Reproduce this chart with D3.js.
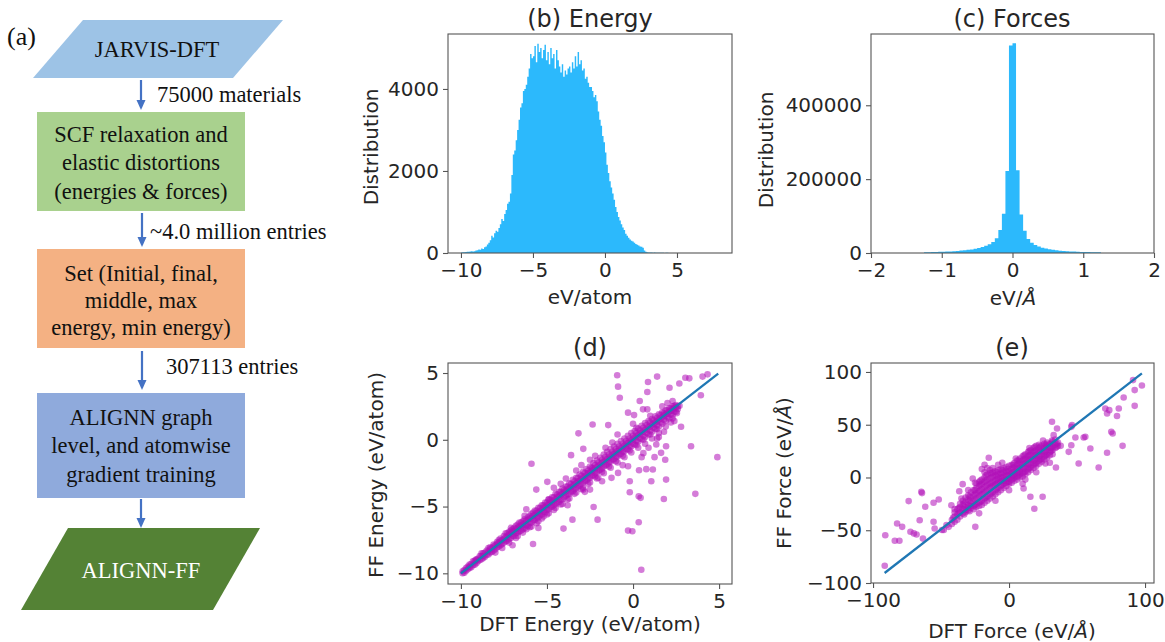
<!DOCTYPE html>
<html>
<head>
<meta charset="utf-8">
<script src="https://cdn.jsdelivr.net/npm/d3@7"></script>
<style>
  body { margin: 0; background: #fff; }
  svg text { font-family: "DejaVu Sans", sans-serif; fill: #262626; }
  .flow text { font-family: "Liberation Serif", "Times New Roman", serif; fill: #111; }
</style>
</head>
<body>
<svg id="fig" width="1165" height="642"></svg>
<script>
// ---- flowchart text ----
const flowSteps = [
  ["JARVIS-DFT"],
  ["SCF relaxation and", "elastic distortions", "(energies & forces)"],
  ["Set (Initial, final,", "middle, max", "energy, min energy)"],
  ["ALIGNN graph", "level, and atomwise", "gradient training"],
  ["ALIGNN-FF"]
];
const flowCounts = ["75000 materials", "~4.0 million entries", "307113 entries", ""];

// ---- (b) energy histogram: bins of 0.1 eV/atom starting at -10 ----
const energyStart = -10, energyWidth = 0.1;
const energyCounts = [
  15, 20, 18, 25, 30, 28, 35, 40, 38, 45,
  60, 70, 85, 80, 110, 95, 140, 160, 210, 250,
  310, 420, 380, 480, 540, 520, 610, 700, 830, 780,
  950, 1050, 1200, 1250, 1450, 1900, 2400, 2500, 2750, 3000,
  3250, 3550, 3650, 3950, 4000, 4100, 4300, 4500, 4850, 4750,
  4800, 5050, 4650, 5100, 4900, 5000, 4750, 4950, 5080, 4700,
  4900, 4600, 5000, 4750, 4850, 4500, 4950, 4700, 4550, 4400,
  4600, 4300, 4450, 4350, 4500, 4550, 4400, 4650, 4500, 4800,
  4550, 4900, 4600, 4700, 4450, 4500, 4250, 4300, 4150, 4050,
  4050, 3950, 3800, 3850, 3700, 3450, 3250, 3100, 2850, 2700,
  2450, 2150, 1950, 1750, 1600, 1450, 1300, 1120, 1000, 880,
  790, 700, 620, 560, 470, 420, 370, 330, 300, 280,
  250, 220, 200, 180, 160, 150, 130, 60, 30, 20,
  15, 12, 10, 8, 10, 6, 8, 5, 6, 4,
  5, 3, 6, 4, 2
];

// ---- (c) force histogram: bins of 0.05 eV/A starting at -1.25 ----
const forceStart = -1.25, forceWidth = 0.05;
const forceCounts = [
  2000, 2200, 2500, 2800, 3100, 3500, 3900, 4400, 5000, 5700,
  6500, 7400, 8500, 9800, 11500, 13500, 16000, 19500, 24000, 30000,
  40000, 62000, 106000, 222000, 562000, 568000, 224000, 104000, 60000, 38000,
  28000, 22000, 17500, 14500, 12000, 10000, 8600, 7400, 6400, 5600,
  4900, 4300, 3800, 3400, 3000, 2700, 2400, 2200, 2000, 1800
];

// ---- (d) DFT vs FF energy: dense band rows [dft, ff, ff, ...] and outliers ----
const energyBand = [
  [-9.9, -9.85, -10.0], [-9.8, -9.75, -9.95], [-9.7, -9.6, -9.8], [-9.6, -9.7, -9.5],
  [-9.5, -9.35, -9.6, -9.5], [-9.4, -9.3, -9.55], [-9.3, -9.1, -9.4], [-9.2, -9.15, -9.35, -9.05],
  [-9.1, -8.95, -9.25, -9.0], [-9.0, -9.1, -8.9], [-8.9, -8.7, -9.0], [-8.8, -8.7, -8.95, -8.5],
  [-8.7, -8.5, -8.85, -8.7], [-8.6, -8.75, -8.45], [-8.5, -8.3, -8.6], [-8.4, -8.35, -8.6, -8.1],
  [-8.3, -8.05, -8.45, -8.2], [-8.2, -8.4, -8.1], [-8.1, -7.85, -8.3, -8.0], [-8.0, -7.9, -8.2, -8.45],
  [-7.9, -7.65, -8.05, -7.8], [-7.8, -7.7, -8.0, -7.5], [-7.7, -7.4, -7.9, -7.6], [-7.6, -7.5, -7.8, -8.1],
  [-7.5, -7.2, -7.7, -7.45], [-7.4, -7.3, -7.6, -7.0], [-7.3, -7.0, -7.55, -7.25],
  [-7.2, -7.1, -7.45, -6.9, -7.7], [-7.1, -6.8, -7.35, -7.05, -6.6], [-7.0, -6.9, -7.2, -6.7],
  [-6.9, -6.6, -7.2, -6.85], [-6.8, -6.7, -7.0, -6.45, -7.35], [-6.7, -6.35, -6.95, -6.6, -7.2],
  [-6.6, -6.5, -6.85, -6.2], [-6.5, -6.2, -6.8, -6.45], [-6.4, -6.35, -6.7, -6.1, -6.95],
  [-6.3, -5.95, -6.6, -6.25, -5.7], [-6.2, -6.05, -6.4, -6.7], [-6.1, -5.8, -6.45, -6.0],
  [-6.0, -5.9, -6.25, -5.7, -6.55], [-5.9, -5.55, -6.2, -5.85, -6.5], [-5.8, -5.7, -6.05, -5.45],
  [-5.7, -5.3, -6.0, -5.65], [-5.6, -5.5, -5.85, -5.3, -6.25], [-5.5, -5.1, -5.8, -5.45, -6.1],
  [-5.4, -5.35, -5.65, -5.1], [-5.3, -4.9, -5.6, -5.25, -5.9], [-5.2, -5.1, -5.4, -4.9, -5.75],
  [-5.1, -4.7, -5.45, -5.05], [-5.0, -4.9, -5.25, -4.7, -5.6], [-4.9, -4.45, -5.2, -4.85, -5.5],
  [-4.8, -4.7, -5.05, -4.5], [-4.7, -4.3, -5.0, -4.65], [-4.6, -4.55, -4.9, -4.3, -5.25],
  [-4.5, -4.05, -4.8, -4.45, -5.1], [-4.4, -4.3, -4.7, -4.1], [-4.3, -3.9, -4.65, -4.25],
  [-4.2, -4.1, -4.5, -3.9, -4.85], [-4.1, -3.65, -4.45, -4.05, -4.8], [-4.0, -3.95, -4.3, -3.75],
  [-3.9, -3.5, -4.2, -3.85], [-3.8, -3.7, -4.1, -3.5, -4.45], [-3.7, -3.25, -4.05, -3.65, -4.4],
  [-3.6, -3.55, -3.9, -3.3], [-3.5, -3.0, -3.85, -3.45], [-3.4, -3.35, -3.7, -3.1, -4.05],
  [-3.3, -2.85, -3.6, -3.25, -3.95], [-3.2, -3.1, -3.5, -2.85], [-3.1, -2.6, -3.45, -3.05],
  [-3.0, -2.95, -3.3, -2.7, -3.7], [-2.9, -2.4, -3.2, -2.85, -3.6], [-2.8, -2.75, -3.1, -2.5],
  [-2.7, -2.2, -3.05, -2.65], [-2.6, -2.5, -2.9, -2.3, -3.3], [-2.5, -2.0, -2.85, -2.45, -3.2],
  [-2.4, -2.35, -2.7, -2.1], [-2.3, -1.75, -2.65, -2.25], [-2.2, -2.15, -2.5, -1.9, -2.75],
  [-2.1, -1.55, -2.45, -2.05, -2.9], [-2.0, -1.95, -2.3, -1.7], [-1.9, -1.35, -2.25, -1.85],
  [-1.8, -1.75, -2.15, -1.5, -2.4], [-1.7, -1.1, -2.0, -1.65, -2.5], [-1.6, -1.55, -1.9, -1.3],
  [-1.5, -0.9, -1.85, -1.45], [-1.4, -1.35, -1.7, -1.1, -2.0], [-1.3, -0.7, -1.65, -1.25, -2.1],
  [-1.2, -1.15, -1.5, -0.9], [-1.1, -0.5, -1.45, -1.05], [-1.0, -0.95, -1.3, -0.7, -1.6],
  [-0.9, -0.3, -1.25, -0.85, -1.7], [-0.8, -0.75, -1.1, -0.5], [-0.7, -0.1, -1.05, -0.65],
  [-0.6, -0.55, -0.9, -0.3, -1.2], [-0.5, 0.1, -0.85, -0.45, -1.3], [-0.4, -0.35, -0.7, -0.1],
  [-0.3, 0.3, -0.7, -0.25], [-0.2, -0.15, -0.5, 0.1, -0.8], [-0.1, 0.5, -0.5, -0.05, -0.95],
  [0.0, 0.05, -0.3, 0.3], [0.1, 0.65, -0.35, 0.15], [0.2, 0.25, -0.1, 0.5, -0.4],
  [0.3, 0.85, -0.15, 0.35, -0.6], [0.4, 0.45, 0.1, 0.7], [0.5, 1.05, 0.05, 0.55],
  [0.6, 0.6, 0.3, 0.9, 0.0], [0.7, 1.25, 0.2, 0.75, -0.3], [0.8, 0.8, 0.5, 1.1],
  [0.9, 1.4, 0.4, 0.95], [1.0, 1.0, 0.7, 1.3, 0.4], [1.1, 1.55, 0.6, 1.1, 0.1],
  [1.2, 1.2, 0.9, 1.45], [1.3, 1.75, 0.8, 1.3], [1.4, 1.4, 1.1, 1.65, 0.8],
  [1.5, 1.9, 1.0, 1.5, 0.5], [1.6, 1.6, 1.3, 1.85], [1.7, 2.05, 1.2, 1.7], [1.8, 1.8, 1.5, 2.0],
  [1.9, 2.2, 1.4, 1.9, 1.0], [2.0, 1.95, 1.7, 2.2], [2.1, 2.35, 1.6, 2.1], [2.2, 2.15, 1.9, 2.35],
  [2.3, 2.5, 1.85, 2.3], [2.4, 2.35, 2.1, 2.55], [2.5, 2.6, 2.1, 2.45], [2.6, 2.5, 2.3], [2.7, 2.55]
];
const energyOutliers = [
  [-0.92, 4.83], [-0.87, 3.98], [1.40, 4.73], [0.87, 4.33], [0.83, 3.58], [2.12, 3.9], [2.69, 4.22],
  [3.04, 4.65], [3.27, 4.6], [4.04, 4.73], [4.33, 4.9], [3.94, 3.33], [4.9, -1.3], [3.37, -0.48],
  [3.62, -4.05], [0.48, -9.73], [-0.29, -6.8], [-0.04, -6.85], [0.33, -6.18], [0.33, -4.23],
  [0.44, -4.35], [-0.19, -3.93], [-0.19, -3.1], [1.06, -3.1], [1.79, -4.43], [1.92, -2.98],
  [1.15, -2.23], [0.77, -2.2], [0.35, -2.28], [-0.29, -1.98], [-0.87, -2.48], [-1.25, -2.85],
  [-2.02, -2.85], [-2.29, -5.03], [-2.06, -5.98], [-3.52, -5.98], [-4.04, -6.65], [-5.81, -7.8],
  [-4.98, -3.15], [-5.62, -3.73], [-5.9, -1.8], [-3.6, -1.15], [-3.17, 0.48], [-2.35, 1.15],
  [-1.44, 1.1], [-0.77, 3.15], [-0.29, 2.03], [0.06, 1.85], [0.39, 2.9], [0.58, 2.28], [0.83, 2.28],
  [2.79, 0.98], [1.92, -0.48], [1.35, -0.35], [1.63, -0.98], [1.25, -1.3], [1.87, -1.5], [2.4, 1.4],
  [-2.89, -0.68], [-2.35, -2.15], [-2.89, -3.73], [-2.5, -3.73], [-4.9, -4.48],
  [1.7, 2.5], [2.0, 2.75], [2.3, 2.9], [2.55, 2.0], [2.2, 1.3], [1.5, 0.2], [0.6, -1.0],
  [-4.2, -3.3], [-3.8, -4.9], [-3.3, -2.3], [-2.8, -3.9], [-2.2, -1.2], [-1.8, -3.1], [-1.2, -0.2],
  [-0.6, -1.9], [0.2, 0.9], [0.5, -1.3], [1.0, 1.8], [1.4, 0.1], [-6.2, -5.2], [-5.5, -6.6],
  [-7.0, -7.9], [-4.6, -3.6], [-3.0, -1.9], [-1.6, -0.6], [0.0, 1.2], [0.9, -0.6], [1.8, 0.6],
  [2.3, 1.6], [-2.5, -1.5], [-0.9, 0.4], [-3.9, -2.9]
];
const energyFit = [[-10, -10], [4.95, 4.95]];

// ---- (e) DFT vs FF force: dense band rows and outliers ----
const forceBand = [
  [-42, -40, -44], [-41, -38], [-40, -37, -42, -33], [-38, -35, -40, -30], [-37, -34, -29],
  [-36, -33, -37, -28, -25], [-34, -30, -34, -26, -22], [-33, -30, -25, -35],
  [-32, -28, -33, -23, -19, -31], [-30, -26, -31, -21, -17, -29], [-29, -27, -22, -32, -18],
  [-28, -24, -29, -19, -14, -27], [-26, -22, -27, -17, -12, -30], [-25, -21, -16, -26, -12],
  [-24, -20, -25, -15, -10, -28, -6], [-22, -18, -24, -13, -8, -27, -4], [-21, -17, -12, -23, -7, -3],
  [-20, -16, -22, -11, -6, -26, -2, 8], [-18, -14, -20, -9, -4, -24, 0, 5], [-17, -13, -8, -19, -3, 2],
  [-16, -12, -18, -7, -2, -22, 3, 9], [-14, -10, -16, -6, -1, -20, 4, 7], [-13, -9, -5, -15, 0, 4],
  [-12, -8, -14, -4, 1, -18, 5, 9], [-10, -7, -12, -3, 2, -16, 6], [-9, -6, -2, -11, 1, 5],
  [-8, -5, -10, -1, 3, -14, 7], [-6, -4, -8, 0, 4, -12, 8], [-5, -3, 0, -7, 3, 7],
  [-4, -3, -6, 1, 5, -10, 9], [-2, -2, -5, 2, 6, -8, 10], [-1, -1, 2, -4, 5, 8],
  [0, -1, -4, 2, 6, -6, 11], [2, 1, -2, 4, 8, -5, 12], [3, 2, 5, -1, 9, 12],
  [4, 3, 0, 6, 10, -3, 14], [6, 4, 1, 8, 12, -2, 16], [7, 5, 9, 2, 13, 16],
  [8, 6, 3, 10, 14, 0, 18], [10, 8, 4, 12, 16, 1, 20], [11, 9, 13, 5, 17, 21],
  [12, 10, 6, 14, 18, 3, 22], [14, 12, 8, 16, 20, 5, 24], [15, 13, 17, 9, 21, 25],
  [16, 14, 10, 18, 22, 7, 26], [18, 16, 12, 20, 24, 9, 28], [19, 17, 21, 13, 25, 29],
  [20, 18, 14, 22, 26, 11, 30], [22, 20, 16, 24, 28, 13, 31], [23, 21, 25, 17, 29],
  [24, 22, 18, 26, 30, 15], [26, 24, 20, 28, 32, 17], [27, 25, 29, 21, 31],
  [28, 26, 22, 30, 33, 19], [30, 28, 24, 32, 21], [31, 28, 32, 25],
  [32, 29, 26, 34, 22], [34, 31, 28, 36], [35, 32, 29], [36, 33, 30]
];
const forceOutliers = [
  [-91, -54.7], [-91.4, -83.7], [-84, -60], [-80.6, -60], [-82.3, -43.6], [-78.6, -46.8],
  [-73.8, -22.4], [-72.5, -51.5], [-70, -53], [-68, -54], [-65.7, -40.6], [-64.5, -13.6],
  [-64, -14.8], [-63.3, -57.9], [-61.6, -27.8], [-55.5, -24], [-51.7, -20.8], [-55.5, -42],
  [-54.7, -48.3], [-49.3, -49.8], [-48, -49.8], [-46, -45], [-44.4, -46.8], [-42.4, -26.3],
  [-36.6, -13], [-34.1, -6.3], [-24.8, -46.8], [-26.7, -0.9], [-14.9, 18.7], [15.7, -18.3],
  [18.6, -29.7], [24.7, -18.3], [10.7, -10.4], [31.6, 52.8], [32.8, 40.1], [35.3, 46.4],
  [26.7, 13.3], [34.5, 9.5], [31.6, 35], [43.9, 24.3], [45.8, 30.6], [48.8, 37.9], [51.2, 13.3],
  [54.9, 37.9], [56.1, 38.5], [59.8, 27.5], [65.9, 9.5], [72.1, 23.4], [75.2, 43.3], [76.2, 41.7],
  [83.5, 30], [70.8, 65.4], [73.7, 63.8], [72.1, 60.7], [80.7, 65.4], [79.4, 58.2], [84.3, 75.8],
  [92.4, 82.8], [92.4, 67.9], [97.7, 87.2], [91.2, 92.3], [46.3, 49.6], [45.8, 48],
  [-35, -20], [-30, -12], [-25, -5], [-18, 12], [-8, 12], [5, 18], [15, 28], [25, 35],
  [-10, -22], [0, -12], [10, -6], [20, 5], [30, 14], [-22, -34], [-40, -30], [38, 30],
  [-5, 14], [12, -2]
];
const forceFit = [[-91.5, -90.5], [97.7, 98.6]];

const svg = d3.select("#fig");

// ================= flowchart (a) =================
const flow = svg.append("g").attr("class", "flow");

flow.append("text").attr("x", 7).attr("y", 45).attr("font-size", 26).text("(a)");

const boxLayout = [
  { kind: "para", top: 20, bottom: 78, left: 83, right: 283, skew: 50, fill: "#9dc3e6", ink: "#111", cx: 157, base: [57] },
  { kind: "rect", top: 112, bottom: 211, left: 37, right: 245, fill: "#a9d18e", ink: "#111", cx: 141, base: [142, 170, 199] },
  { kind: "rect", top: 249, bottom: 348, left: 37, right: 245, fill: "#f4b183", ink: "#111", cx: 141, base: [281, 308, 335] },
  { kind: "rect", top: 393, bottom: 498, left: 37, right: 245, fill: "#8faadc", ink: "#111", cx: 141, base: [425, 453, 482] },
  { kind: "para", top: 528, bottom: 610, left: 68, right: 260, skew: 47, fill: "#548235", ink: "#fff", cx: 141, base: [578] }
];

boxLayout.forEach((b, i) => {
  if (b.kind === "para") {
    const pts = [[b.left, b.top], [b.right, b.top], [b.right - b.skew, b.bottom], [b.left - b.skew, b.bottom]];
    flow.append("polygon").attr("points", pts.map(p => p.join(",")).join(" ")).attr("fill", b.fill);
  } else {
    flow.append("rect").attr("x", b.left).attr("y", b.top)
      .attr("width", b.right - b.left).attr("height", b.bottom - b.top).attr("fill", b.fill);
  }
  flowSteps[i].forEach((line, j) => {
    flow.append("text").attr("x", b.cx).attr("y", b.base[j])
      .attr("text-anchor", "middle").attr("font-size", 22.5)
      .style("fill", b.ink).text(line);
  });
});

const arrowLayout = [
  { x: 141, y1: 80, y2: 110, lx: 157, ly: 102 },
  { x: 142, y1: 213, y2: 247, lx: 150, ly: 239 },
  { x: 142, y1: 351, y2: 390, lx: 166, ly: 374 },
  { x: 141, y1: 499, y2: 528, lx: 0, ly: 0 }
];
arrowLayout.forEach((a, i) => {
  flow.append("line").attr("x1", a.x).attr("x2", a.x).attr("y1", a.y1).attr("y2", a.y2 - 8)
    .attr("stroke", "#4472c4").attr("stroke-width", 2.2);
  flow.append("polygon")
    .attr("points", `${a.x - 4.5},${a.y2 - 10} ${a.x + 4.5},${a.y2 - 10} ${a.x},${a.y2}`)
    .attr("fill", "#4472c4");
  if (flowCounts[i]) {
    flow.append("text").attr("x", a.lx).attr("y", a.ly).attr("font-size", 22.5).text(flowCounts[i]);
  }
});

// ================= plot panels =================
let clipId = 0;
function makePanel(p) {
  const x = d3.scaleLinear().domain(p.xd).range([p.x0, p.x1]);
  const y = d3.scaleLinear().domain(p.yd).range([p.y1, p.y0]);
  const g = svg.append("g");
  const id = "clip" + (clipId++);
  g.append("clipPath").attr("id", id).append("rect")
    .attr("x", p.x0).attr("y", p.y0).attr("width", p.x1 - p.x0).attr("height", p.y1 - p.y0);
  const plot = g.append("g").attr("clip-path", `url(#${id})`);
  return { g, plot, x, y, p };
}

function finishPanel({ g, x, y, p }) {
  g.append("rect").attr("x", p.x0).attr("y", p.y0)
    .attr("width", p.x1 - p.x0).attr("height", p.y1 - p.y0)
    .attr("fill", "none").attr("stroke", "#555").attr("stroke-width", 1.1);

  const styleAxis = a => {
    a.select(".domain").remove();
    a.attr("font-size", 20).attr("font-family", "DejaVu Sans");
    a.selectAll(".tick line").attr("stroke", "#555").attr("stroke-width", 1.1);
    a.selectAll(".tick text").style("fill", "#262626");
  };
  g.append("g").attr("transform", `translate(0,${p.y1})`)
    .call(d3.axisBottom(x).tickValues(p.xt).tickSize(5).tickPadding(5).tickFormat(d3.format("d")))
    .call(styleAxis);
  g.append("g").attr("transform", `translate(${p.x0},0)`)
    .call(d3.axisLeft(y).tickValues(p.yt).tickSize(5).tickPadding(4).tickFormat(d3.format("d")))
    .call(styleAxis);

  g.append("text").attr("x", p.tx).attr("y", p.ty).attr("text-anchor", "middle")
    .attr("font-size", 24).text(p.title);

  const xl = g.append("text").attr("x", p.xlx).attr("y", p.xly)
    .attr("text-anchor", "middle").attr("font-size", 20);
  p.xlabel.forEach(([s, it]) => xl.append("tspan").attr("font-style", it ? "italic" : null).text(s));

  const yl = g.append("text").attr("transform", `translate(${p.ylx},${p.yly}) rotate(-90)`)
    .attr("text-anchor", "middle").attr("font-size", 20);
  p.ylabel.forEach(([s, it]) => yl.append("tspan").attr("font-style", it ? "italic" : null).text(s));
}

function drawHist(panel, start, width, counts) {
  const pts = counts.map((c, i) => ({ x0: start + i * width, c }));
  pts.push({ x0: start + counts.length * width, c: counts[counts.length - 1] });
  const area = d3.area()
    .x(d => panel.x(d.x0))
    .y0(panel.y(0))
    .y1(d => panel.y(d.c))
    .curve(d3.curveStepAfter);
  panel.plot.append("path").datum(pts).attr("d", area).attr("fill", "#2cb9fc");
}

function drawScatter(panel, band, outliers, fit) {
  const pts = band.flatMap(([xv, ...ys]) => ys.map(yv => [xv, yv])).concat(outliers);
  panel.plot.selectAll("circle.pt").data(pts).enter().append("circle")
    .attr("class", "pt")
    .attr("cx", d => panel.x(d[0])).attr("cy", d => panel.y(d[1])).attr("r", 3.3)
    .attr("fill", "#b010b8").attr("fill-opacity", 0.55);
  panel.plot.append("path").datum(fit)
    .attr("d", d3.line().x(d => panel.x(d[0])).y(d => panel.y(d[1])))
    .attr("stroke", "#1f77b4").attr("stroke-width", 2.3).attr("fill", "none");
}

// (b) Energy
const pb = makePanel({
  x0: 448, x1: 732, y0: 34, y1: 253, xd: [-10.9, 8.82], yd: [0, 5340],
  xt: [-10, -5, 0, 5], yt: [0, 2000, 4000],
  title: "(b) Energy", tx: 590, ty: 27,
  xlabel: [["eV/atom"]], xlx: 590, xly: 304,
  ylabel: [["Distribution"]], ylx: 378, yly: 147
});
drawHist(pb, energyStart, energyWidth, energyCounts);
finishPanel(pb);

// (c) Forces
const pc = makePanel({
  x0: 871, x1: 1154, y0: 34, y1: 253, xd: [-2, 2], yd: [0, 593000],
  xt: [-2, -1, 0, 1, 2], yt: [0, 200000, 400000],
  title: "(c) Forces", tx: 1012, ty: 27,
  xlabel: [["eV/"], ["Å", true]], xlx: 1013, xly: 305,
  ylabel: [["Distribution"]], ylx: 773, yly: 150
});
drawHist(pc, forceStart, forceWidth, forceCounts);
finishPanel(pc);

// (d) energy parity
const pd = makePanel({
  x0: 448, x1: 732, y0: 363, y1: 584, xd: [-10.75, 5.75], yd: [-10.8, 5.75],
  xt: [-10, -5, 0, 5], yt: [-10, -5, 0, 5],
  title: "(d)", tx: 590, ty: 356,
  xlabel: [["DFT Energy (eV/atom)"]], xlx: 590, xly: 631,
  ylabel: [["FF Energy (eV/atom)"]], ylx: 383, yly: 475
});
drawScatter(pd, energyBand, energyOutliers, energyFit);
finishPanel(pd);

// (e) force parity
const pe = makePanel({
  x0: 871, x1: 1154, y0: 363, y1: 583, xd: [-101.5, 106.6], yd: [-100, 108.5],
  xt: [-100, 0, 100], yt: [-100, -50, 0, 50, 100],
  title: "(e)", tx: 1012, ty: 356,
  xlabel: [["DFT Force (eV/"], ["Å", true], [")"]], xlx: 1012, xly: 638,
  ylabel: [["FF Force (eV/"], ["Å", true], [")"]], ylx: 791, yly: 473
});
drawScatter(pe, forceBand, forceOutliers, forceFit);
finishPanel(pe);
</script>
</body>
</html>
